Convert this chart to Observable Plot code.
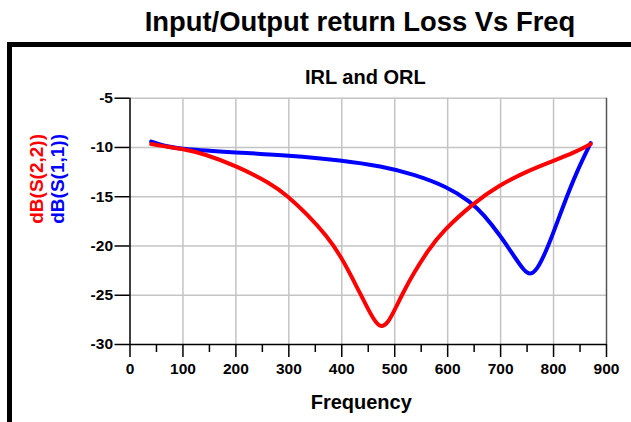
<!DOCTYPE html>
<html><head><meta charset="utf-8">
<script src="https://cdn.jsdelivr.net/npm/d3@7"></script>
<script src="https://cdn.jsdelivr.net/npm/@observablehq/plot@0.6"></script>
<style>
body{margin:0;width:631px;height:422px;overflow:hidden;background:#fff;font-family:Arial,"Liberation Sans",sans-serif;position:relative}
#title{position:absolute;left:0;top:8px;width:720px;text-align:center;font-weight:bold;font-size:27.4px;line-height:28px;color:#000}
#frame{position:absolute;left:7px;top:42px;width:700px;height:500px;border-left:5px solid #000;border-top:5px solid #000;box-sizing:border-box}
#chart{position:absolute;left:0;top:42px}
</style>
</head><body>
<div id="title">Input/Output return Loss Vs Freq</div>
<div id="frame"></div>
<div id="chart"></div>
<script>
// Frequency samples and values (dB)
const s22Freq = [40, 60, 100, 140, 200, 266, 297, 335, 372, 398, 429, 454, 466, 476, 487, 498, 517, 536, 561, 590, 650, 695, 750, 800, 840, 870];
const s22Val  = [-9.65, -9.85, -10.15, -10.65, -11.85, -13.65, -14.9, -16.8, -19.0, -21.0, -24.2, -26.9, -27.9, -28.25, -27.8, -26.7, -24.6, -22.75, -20.6, -18.5, -15.6, -13.9, -12.4, -11.35, -10.5, -9.65];
const s11Freq = [40, 60, 100, 200, 300, 400, 475, 535, 600, 643, 668, 700, 725, 744, 757, 772, 794, 819, 845, 870];
const s11Val  = [-9.4, -9.8, -10.2, -10.5, -10.8, -11.3, -11.9, -12.7, -14.0, -15.5, -16.8, -19.0, -21.0, -22.5, -23.0, -22.2, -19.5, -15.8, -12.3, -9.55];
const xTicks = [0, 100, 200, 300, 400, 500, 600, 700, 800, 900];
const xMinorTicks = [50, 150, 250, 350, 450, 550, 650, 750, 850];
const yTicks = [-30, -25, -20, -15, -10, -5];
const subtitle = "IRL and ORL";
const xLabel = "Frequency";
const yLabelS22 = "dB(S(2,2))";
const yLabelS11 = "dB(S(1,1))";

const s22 = s22Freq.map((f, i) => ({f, v: s22Val[i]}));
const s11 = s11Freq.map((f, i) => ({f, v: s11Val[i]}));

const font = "Arial, 'Liberation Sans', sans-serif";
const plot = Plot.plot({
  width: 631, height: 380,
  marginLeft: 129.5, marginRight: 25, marginTop: 55.7, marginBottom: 78,
  style: {background: "transparent", fontFamily: font, fontSize: "15px", fontWeight: "bold", color: "#000", overflow: "visible"},
  x: {domain: [0, 900]},
  y: {domain: [-30, -5]},
  marks: [
    Plot.gridX(xTicks.slice(1, -1), {stroke: "#c4c4c4", strokeOpacity: 1, strokeWidth: 1.5}),
    Plot.gridY(yTicks.slice(1), {stroke: "#c4c4c4", strokeOpacity: 1, strokeWidth: 1.5}),
    Plot.ruleX([900], {stroke: "#555", strokeWidth: 1.5}),
    Plot.ruleX([0], {stroke: "#000", strokeWidth: 1.5}),
    Plot.ruleY([-30], {stroke: "#000", strokeWidth: 1.5}),
    Plot.axisX(xMinorTicks, {tickSize: 8, tickFormat: () => "", label: null, stroke: "#000", strokeWidth: 1.5}),
    Plot.axisX(xTicks, {tickSize: 13, tickPadding: 5, tickFormat: d => String(d), label: null, stroke: "#000", strokeWidth: 1.5, fontSize: 15.5, fontWeight: "bold"}),
    Plot.axisY(yTicks, {tickSize: 15, tickPadding: 2, tickFormat: d => String(d), label: null, stroke: "#000", strokeWidth: 1.5, fontSize: 15.5, fontWeight: "bold"}),
    Plot.line(s11, {x: "f", y: "v", stroke: "#0000ff", strokeWidth: 4, curve: "basis"}),
    Plot.line(s22, {x: "f", y: "v", stroke: "#ff0000", strokeWidth: 4, curve: "basis"}),
    Plot.text([subtitle], {frameAnchor: "top", dx: -3, dy: -28.7, fontSize: 20, fontWeight: "bold", fill: "#000"}),
    Plot.text([xLabel], {frameAnchor: "bottom", dx: -7, dy: 64, fontSize: 20, fontWeight: "bold", fill: "#000"}),
    Plot.text([yLabelS22], {frameAnchor: "left", dx: -93, dy: 2.4, rotate: -90, fontSize: 19, fontWeight: "bold", fill: "#ff0000"}),
    Plot.text([yLabelS11], {frameAnchor: "left", dx: -72.5, dy: 2.4, rotate: -90, fontSize: 19, fontWeight: "bold", fill: "#0000ff"})
  ]
});
document.getElementById("chart").appendChild(plot);
</script>
</body></html>
